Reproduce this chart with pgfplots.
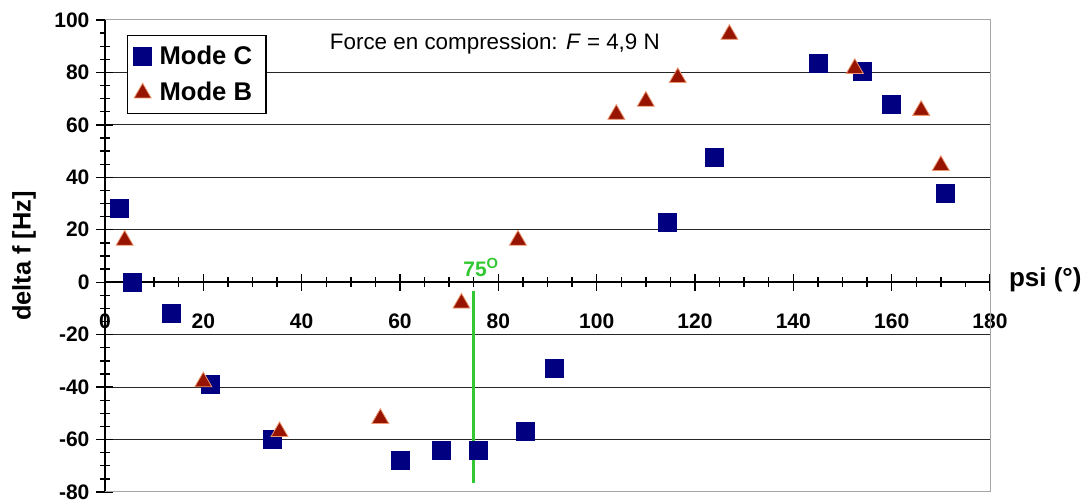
\documentclass[border=0pt]{standalone}
\usepackage{pgfplots}
\pgfplotsset{compat=1.18}
\usepackage{fontspec}
\setmainfont{Liberation Sans}
\definecolor{modec}{RGB}{0,0,128}
\definecolor{modeb}{RGB}{150,20,0}
\definecolor{modebedge}{RGB}{235,150,110}
\definecolor{mark75}{RGB}{50,200,50}

\begin{document}
\begin{tikzpicture}
\begin{axis}[
    scale only axis,
    width=442.5pt, height=236pt,
    xmin=0, xmax=180, ymin=-80, ymax=100,
    axis x line=middle, axis y line=left,
    hide obscured x ticks=false,
    x axis line style={-, black, line width=0.8pt},
    y axis line style={-, black, line width=0.8pt},
    xtick={0,20,...,180}, ytick={-80,-60,...,100},
    minor x tick num=3, minor y tick num=3,
    tick align=center,
    major tick length=8.5pt, minor tick length=5pt,
    tick style={black, line width=0.7pt},
    major y tick style={shorten >=4.25pt},
    minor y tick style={shorten >=2.5pt},
    minor x tick style={shorten >=2.5pt},
    ymajorgrids, grid style={black!85, line width=0.5pt},
    /pgf/number format/assume math mode=true,
    tick label style={font=\bfseries\fontsize{10.5}{12}\selectfont},
    xticklabel style={yshift=-8pt},
    xlabel={psi (°)},
    xlabel style={at={(axis cs:180,0)}, anchor=west, xshift=6pt, yshift=1pt,
        font=\bfseries\fontsize{13}{15}\selectfont},
    ylabel={delta f [Hz]},
    ylabel style={at={(axis description cs:-0.0915,0.5)}, anchor=center,
        font=\bfseries\fontsize{12.7}{15}\selectfont},
    legend style={at={(axis description cs:0.0249,0.968)}, anchor=north west,
        font=\bfseries\fontsize{12.8}{15}\selectfont, draw=black, line width=0.6pt,
        row sep=3.5pt, inner xsep=3pt, inner ysep=3pt,
        nodes={inner xsep=4pt}},
    legend image code/.code={\draw[#1] plot coordinates {(0.22cm,0cm)};},
    clip=false,
]
% frame on the other three sides
\draw[gray!70, line width=0.5pt] (rel axis cs:0,1) -- (rel axis cs:1,1) -- (rel axis cs:1,0) -- (rel axis cs:0,0);

\addplot[only marks, mark=square*, mark size=4.5pt, color=modec]
    coordinates {(3,28)(5.5,0)(13.5,-12)(21.5,-39)(34,-60)(60,-68)(68.5,-64)(76,-64)
                 (85.5,-57)(91.5,-33)(114.3,23)(124,47.5)(145,83.5)(154,80.5)(160,68)(171,34)};
\addlegendentry{Mode C}

\addplot[only marks, mark=triangle*, mark size=4.9pt, draw=modebedge, fill=modeb, line width=0.4pt]
    coordinates {(4,16)(20,-38)(35.5,-57)(56,-52)(72.5,-8)(84,16)(104,64)(110,69)
                 (116.5,78)(127,94.5)(152.5,81.5)(166,65.5)(170,44.5)};
\addlegendentry{Mode B}

\addplot[mark75, line width=1.3pt, forget plot] coordinates {(75,-3.4)(75,-76.7)};
\node[mark75, anchor=base west, inner sep=0pt, font=\bfseries\fontsize{10.5}{12}\selectfont]
    at (axis cs:72.8,2.3) {75\textsuperscript{O}};

\node[font=\fontsize{11.2}{13}\selectfont] at (axis cs:79.3,90.8)
    {Force en compression: \textit{F} = 4,9 N};
\end{axis}
\pgfresetboundingbox
\path (-52.5pt,-5pt) rectangle (491.5pt,246pt);
\end{tikzpicture}
\end{document}
